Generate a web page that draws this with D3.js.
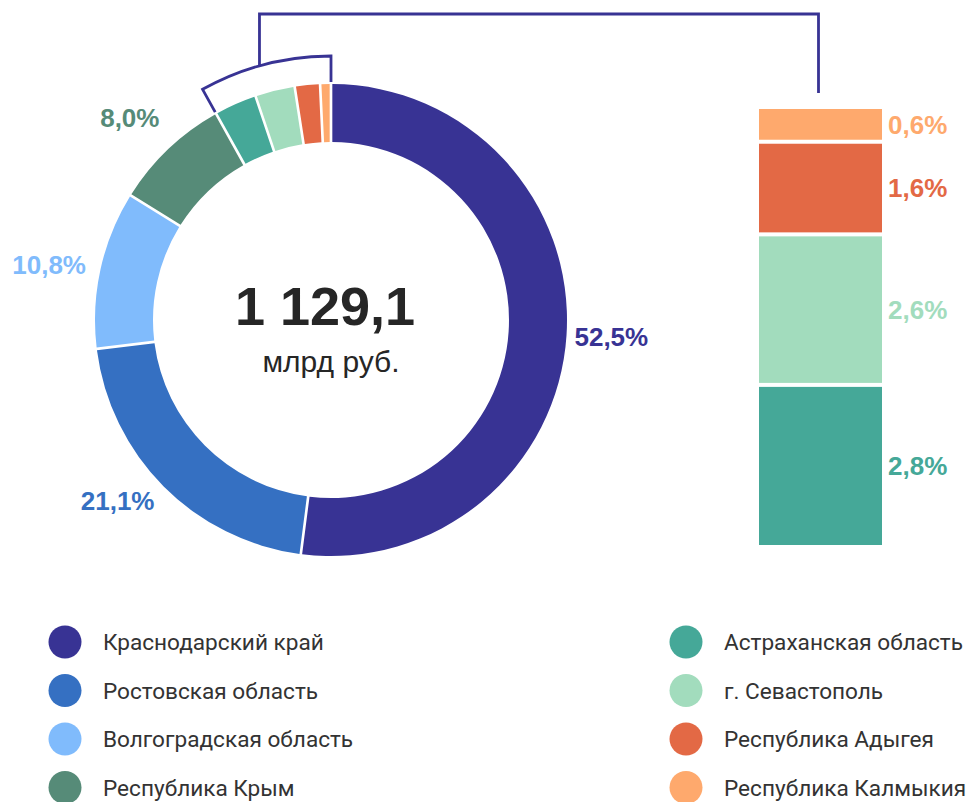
<!DOCTYPE html>
<html>
<head>
<meta charset="utf-8">
<script src="https://cdn.jsdelivr.net/npm/d3@7"></script>
<style>
  body { margin: 0; background: #fff; }
  svg { display: block; }
</style>
</head>
<body>
<div id="container"></div>
<script>
// values (percent of 1 129,1 bn rub)
const regions = ["Краснодарский край", "Ростовская область", "Волгоградская область", "Республика Крым",
  "Астраханская область", "г. Севастополь", "Республика Адыгея", "Республика Калмыкия"];
const shares = [52.5, 21.1, 10.8, 8.0, 2.8, 2.6, 1.6, 0.6];
const colors = ["#383394", "#3570c2", "#80bbfc", "#568b78", "#45a898", "#a2dcbd", "#e36945", "#fea96d"];
const shareLabels = ["52,5%", "21,1%", "10,8%", "8,0%", "2,8%", "2,6%", "1,6%", "0,6%"];
const totalText = "1 129,1";
const unitText = "млрд руб.";
const smallFrom = 4; // slices shown again in the bar on the right

const W = 977, H = 802;
const cx = 331, cy = 320, rOuter = 236, rInner = 178;

const svg = d3.select("div#container")
  .append("svg")
  .attr("width", W)
  .attr("height", H)
  .attr("viewBox", `0 0 ${W} ${H}`);

const data = regions.map((name, i) => ({ name, value: shares[i], color: colors[i], label: shareLabels[i] }));

const pie = d3.pie().sort(null).value(d => d.value).padAngle(0.009);
const arcs = pie(data);
const arc = d3.arc().innerRadius(rInner).outerRadius(rOuter);

const donut = svg.append("g").attr("transform", `translate(${cx},${cy})`);

donut.selectAll("path")
  .data(arcs)
  .enter().append("path")
  .attr("d", arc)
  .attr("fill", d => d.data.color);

// outside labels only for the big slices
const labelArc = d3.arc().innerRadius(256).outerRadius(256);
donut.selectAll("text.pct")
  .data(arcs.slice(0, smallFrom))
  .enter().append("text")
  .attr("class", "pct")
  .attr("transform", d => {
    const p = labelArc.centroid(d);
    return `translate(${p[0]},${p[1]})`;
  })
  .attr("text-anchor", d => (d.startAngle + d.endAngle) / 2 < Math.PI ? "start" : "end")
  .attr("dx", d => (d.startAngle + d.endAngle) / 2 < Math.PI ? -12 : 5)
  .attr("dy", d => (d.startAngle + d.endAngle) / 2 > 5.5 ? "-0.3em" : "0.36em")
  .attr("font-family", "'Liberation Sans', Arial, sans-serif")
  .attr("font-weight", "bold")
  .attr("font-size", 26)
  .attr("fill", d => d.data.color)
  .text(d => d.data.label);

// center text
donut.append("text")
  .attr("text-anchor", "middle")
  .attr("x", -6)
  .attr("y", 5)
  .attr("font-family", "'Liberation Sans', Arial, sans-serif")
  .attr("font-weight", "bold")
  .attr("font-size", 54)
  .attr("fill", "#262626")
  .text(totalText);

donut.append("text")
  .attr("text-anchor", "middle")
  .attr("y", 52)
  .attr("font-family", "'Liberation Sans', Arial, sans-serif")
  .attr("font-size", 30)
  .attr("fill", "#262626")
  .text(unitText);

// bracket around the small slices
const a0 = arcs[smallFrom].startAngle, a1 = arcs[arcs.length - 1].endAngle;
const rB = 264, rT = 238;
const pt = (r, a) => [r * Math.sin(a), -r * Math.cos(a)];
const bracket = d3.path();
bracket.moveTo(...pt(rT, a0));
bracket.lineTo(...pt(rB, a0));
bracket.arc(0, 0, rB, a0 - Math.PI / 2, a1 - Math.PI / 2, false);
bracket.lineTo(...pt(rT, a1));
donut.append("path")
  .attr("d", bracket.toString())
  .attr("fill", "none")
  .attr("stroke", colors[0])
  .attr("stroke-width", 2.8);

// stacked bar of the small slices
const small = data.slice(smallFrom);
const smallSum = d3.sum(small, d => d.value);
const barX = 759, barW = 123, barTop = 107, barBottom = 547;
const y = d3.scaleLinear().domain([0, smallSum]).range([barBottom, barTop]);

let cum = 0;
const stacked = small.map(d => {
  const s = { ...d, y0: cum, y1: cum + d.value };
  cum += d.value;
  return s;
});

const bar = svg.append("g");
bar.selectAll("rect")
  .data(stacked)
  .enter().append("rect")
  .attr("x", barX)
  .attr("width", barW)
  .attr("y", d => y(d.y1) + 2)
  .attr("height", d => y(d.y0) - y(d.y1) - 4)
  .attr("fill", d => d.color);

bar.selectAll("text")
  .data(stacked)
  .enter().append("text")
  .attr("x", barX + barW + 6)
  .attr("y", d => (y(d.y0) + y(d.y1)) / 2)
  .attr("dy", "0.36em")
  .attr("font-family", "'Liberation Sans', Arial, sans-serif")
  .attr("font-weight", "bold")
  .attr("font-size", 26)
  .attr("fill", d => d.color)
  .text(d => d.label);

// connector from bracket to the bar
const attach = pt(rB, a0 + 0.46 * (a1 - a0));
const jx = cx + attach[0], jy = cy + attach[1];
const topY = 14, barMid = barX + barW / 2 - 2;
svg.append("path")
  .attr("d", `M${jx},${jy}V${topY}H${barMid}V${barTop - 14}`)
  .attr("fill", "none")
  .attr("stroke", colors[0])
  .attr("stroke-width", 2.8);

// legend, two columns of four
const legend = svg.append("g")
  .selectAll("g")
  .data(data)
  .enter().append("g")
  .attr("transform", (d, i) => `translate(${i < 4 ? 65 : 686},${642 + (i % 4) * 48.5})`);

legend.append("circle")
  .attr("r", 16.5)
  .attr("fill", d => d.color);

legend.append("text")
  .attr("x", 38)
  .attr("dy", "0.36em")
  .attr("font-family", "Roboto, sans-serif")
  .attr("font-size", 22.6)
  .attr("fill", "#333")
  .text(d => d.name);
</script>
</body>
</html>
